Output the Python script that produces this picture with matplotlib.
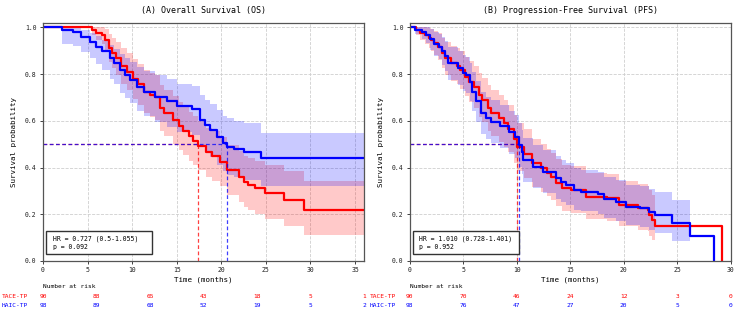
import matplotlib
matplotlib.use('Agg')
import matplotlib.pyplot as plt
import numpy as np
from matplotlib.transforms import blended_transform_factory
from matplotlib.patches import Rectangle

plt.rcParams['font.family'] = ['DejaVu Sans Mono']

# ---------------- Data ----------------
groups = ["TACE-TP", "HAIC-TP"]
colors = ["#ff0000", "#0000ff"]

# (A) Overall survival
os_tace_t = [0, 5.5, 6.0, 6.6, 7.0, 7.4, 7.7, 8.2, 8.8, 9.4, 10.1, 10.7, 11.3, 12.0, 12.6, 13.1,
             13.6, 14.6, 15.2, 15.7, 16.4, 16.8, 17.35, 18.3, 19.0, 19.9, 20.6, 22.0, 22.5, 23.0,
             23.8, 24.9, 27.0, 29.3, 36.0]
os_tace_s = [1.0, 0.989, 0.978, 0.967, 0.944, 0.911, 0.889, 0.867, 0.833, 0.811, 0.778, 0.756, 0.725,
             0.711, 0.700, 0.656, 0.633, 0.603, 0.578, 0.556, 0.533, 0.515, 0.493, 0.465, 0.448, 0.425,
             0.389, 0.360, 0.339, 0.325, 0.311, 0.290, 0.261, 0.218, 0.218]
os_tace_lo = [1.0, 0.967, 0.948, 0.930, 0.897, 0.853, 0.824, 0.797, 0.756, 0.730, 0.692, 0.667, 0.632,
              0.617, 0.605, 0.557, 0.533, 0.501, 0.475, 0.452, 0.429, 0.410, 0.388, 0.360, 0.343, 0.319,
              0.283, 0.254, 0.232, 0.217, 0.202, 0.180, 0.150, 0.111, 0.111]
os_tace_hi = [1.0, 1.0, 1.0, 1.0, 0.991, 0.970, 0.954, 0.937, 0.910, 0.892, 0.864, 0.845, 0.818,
              0.805, 0.795, 0.755, 0.734, 0.706, 0.682, 0.661, 0.638, 0.621, 0.598, 0.571, 0.555, 0.532,
              0.497, 0.470, 0.451, 0.440, 0.428, 0.410, 0.384, 0.344, 0.344]

os_haic_t = [0, 2.1, 3.4, 4.3, 5.3, 6.0, 6.6, 7.5, 8.0, 8.6, 9.2, 9.8, 10.5, 11.3, 12.6, 13.9, 15.0,
             16.7, 17.6, 18.2, 18.7, 19.5, 20.2, 20.6, 21.4, 22.5, 24.4, 36.0]
os_haic_s = [1.0, 0.990, 0.980, 0.959, 0.939, 0.918, 0.898, 0.867, 0.847, 0.816, 0.796, 0.775, 0.745,
             0.724, 0.704, 0.683, 0.662, 0.652, 0.605, 0.583, 0.560, 0.530, 0.504, 0.490, 0.480, 0.468,
             0.440, 0.440]
os_haic_lo = [1.0, 0.930, 0.921, 0.895, 0.868, 0.842, 0.817, 0.780, 0.757, 0.721, 0.698, 0.675, 0.642,
              0.619, 0.597, 0.575, 0.552, 0.541, 0.490, 0.467, 0.443, 0.411, 0.384, 0.369, 0.358, 0.346,
              0.321, 0.321]
os_haic_hi = [1.0, 1.0, 0.998, 0.987, 0.975, 0.961, 0.946, 0.924, 0.909, 0.886, 0.870, 0.853, 0.829,
              0.812, 0.795, 0.777, 0.759, 0.750, 0.710, 0.691, 0.671, 0.645, 0.622, 0.610, 0.601, 0.591,
              0.548, 0.548]

# (B) Progression-free survival
pfs_tace_t = [0, 0.6, 1.0, 1.4, 1.8, 2.0, 2.3, 2.6, 3.0, 3.3, 3.9, 4.4, 4.7, 5.2, 5.5, 6.0, 6.5, 6.8,
              7.3, 7.6, 8.3, 8.8, 9.2, 9.7, 10.0, 10.7, 11.4, 12.3, 12.8, 13.2, 13.7, 14.2, 15.1, 16.5,
              18.4, 19.6, 21.3, 22.3, 22.4, 22.6, 22.9, 29.2]
pfs_tace_s = [1.0, 0.989, 0.978, 0.967, 0.956, 0.944, 0.933, 0.917, 0.889, 0.867, 0.846, 0.833, 0.817,
              0.789, 0.767, 0.744, 0.711, 0.689, 0.656, 0.633, 0.611, 0.589, 0.567, 0.522, 0.489, 0.460,
              0.418, 0.396, 0.378, 0.360, 0.333, 0.311, 0.304, 0.275, 0.268, 0.240, 0.225, 0.218, 0.197,
              0.175, 0.150, 0.0]
pfs_tace_lo = [1.0, 0.967, 0.948, 0.930, 0.913, 0.897, 0.881, 0.860, 0.824, 0.797, 0.771, 0.756, 0.737,
               0.705, 0.680, 0.654, 0.618, 0.594, 0.558, 0.534, 0.511, 0.488, 0.465, 0.420, 0.386, 0.357,
               0.316, 0.294, 0.277, 0.260, 0.235, 0.214, 0.207, 0.180, 0.173, 0.148, 0.134, 0.127, 0.108,
               0.089, 0.061, np.nan]
pfs_tace_hi = [1.0, 1.0, 1.0, 1.0, 0.999, 0.991, 0.985, 0.974, 0.954, 0.937, 0.921, 0.910, 0.897,
               0.873, 0.854, 0.834, 0.804, 0.784, 0.754, 0.732, 0.711, 0.690, 0.669, 0.625, 0.592, 0.563,
               0.521, 0.499, 0.481, 0.462, 0.435, 0.413, 0.406, 0.378, 0.371, 0.343, 0.328, 0.322, 0.302,
               0.282, 0.268, np.nan]

pfs_haic_t = [0, 0.5, 1.1, 1.5, 1.9, 2.3, 2.7, 3.0, 3.3, 3.6, 4.5, 5.0, 5.3, 5.6, 5.8, 6.2, 6.7, 7.1,
              7.6, 8.4, 9.3, 9.8, 10.25, 10.5, 10.6, 11.5, 12.5, 13.7, 14.1, 14.6, 15.4, 16.0, 17.6,
              18.2, 19.3, 20.2, 21.5, 22.4, 22.9, 24.5, 26.2, 28.4]
pfs_haic_s = [1.0, 0.990, 0.980, 0.969, 0.949, 0.929, 0.918, 0.898, 0.878, 0.847, 0.827, 0.806, 0.796,
              0.765, 0.724, 0.684, 0.633, 0.612, 0.597, 0.577, 0.551, 0.532, 0.496, 0.465, 0.432, 0.404,
              0.382, 0.354, 0.340, 0.325, 0.304, 0.297, 0.286, 0.264, 0.254, 0.232, 0.225, 0.211, 0.197,
              0.161, 0.107, 0.0]
pfs_haic_lo = [1.0, 0.970, 0.951, 0.933, 0.904, 0.877, 0.863, 0.838, 0.813, 0.776, 0.753, 0.729, 0.718,
               0.684, 0.640, 0.597, 0.543, 0.521, 0.506, 0.485, 0.459, 0.439, 0.403, 0.372, 0.340, 0.313,
               0.292, 0.266, 0.253, 0.239, 0.220, 0.213, 0.203, 0.183, 0.173, 0.153, 0.147, 0.133, 0.120,
               0.085, 0.034, np.nan]
pfs_haic_hi = [1.0, 1.0, 1.0, 1.0, 0.994, 0.981, 0.973, 0.958, 0.943, 0.918, 0.901, 0.883, 0.874,
               0.846, 0.808, 0.771, 0.723, 0.703, 0.688, 0.669, 0.644, 0.625, 0.590, 0.559, 0.526, 0.498,
               0.476, 0.448, 0.434, 0.419, 0.398, 0.391, 0.380, 0.358, 0.348, 0.327, 0.320, 0.307, 0.294,
               0.262, 0.240, np.nan]

os_medians = [17.36, 20.6]
pfs_medians = [10.0, 10.25]

os_risk_times = [0, 6, 12, 18, 24, 30, 36]
os_risk_tace = [90, 88, 65, 43, 18, 5, 1]
os_risk_haic = [98, 89, 68, 52, 19, 5, 2]
pfs_risk_times = [0, 5, 10, 15, 20, 25, 30]
pfs_risk_tace = [90, 70, 46, 24, 12, 3, 0]
pfs_risk_haic = [98, 76, 47, 27, 20, 5, 0]

os_title = "(A) Overall Survival (OS)"
pfs_title = "(B) Progression-Free Survival (PFS)"
os_stats = ["HR = 0.727 (0.5-1.055)", "p = 0.092"]
pfs_stats = ["HR = 1.010 (0.728-1.401)", "p = 0.952"]

# ---------------- Plot ----------------
fig = plt.figure(figsize=(7.36, 3.11), dpi=100)
axA = fig.add_axes([0.0584, 0.1608, 0.4361, 0.7662])
axB = fig.add_axes([0.5567, 0.1608, 0.4361, 0.7662])


def draw_panel(ax, curves, medians, xmax, xticks, title, stats,
               risk_times, risk_rows, label_x):
    for (t, s, lo, hi), c in zip(curves, colors):
        ax.fill_between(t, lo, hi, step='post', color=c, alpha=0.21, lw=0)
    for (t, s, lo, hi), c in zip(curves, colors):
        ax.step(t, s, where='post', color=c, lw=1.6)
    # median lines
    for m, c in zip(medians, colors):
        ax.plot([0, m], [0.5, 0.5], color=c, lw=0.9, ls=(0, (3, 2)), alpha=0.75)
        ax.plot([m, m], [0, 0.5], color=c, lw=0.9, ls=(0, (3, 2)), alpha=0.75)
    ax.set_xlim(0, xmax)
    ax.set_ylim(0, 1.02)
    ax.set_xticks(xticks)
    ax.set_yticks([0, 0.2, 0.4, 0.6, 0.8, 1.0])
    ax.set_yticklabels(["0.0", "0.2", "0.4", "0.6", "0.8", "1.0"])
    ax.grid(True, color='#cfcfcf', ls='--', lw=0.6)
    ax.set_axisbelow(True)
    ax.tick_params(labelsize=4.7, length=2.5, width=0.6, pad=2, colors='#222222')
    for sp in ax.spines.values():
        sp.set_color('#555555')
        sp.set_linewidth(0.9)
    ax.set_title(title, fontsize=6.0, pad=7)
    ax.set_xlabel("Time (months)", fontsize=5.4, labelpad=2)
    ax.set_ylabel("Survival probability", fontsize=5.4, labelpad=6)
    # statistics box
    ax.add_patch(Rectangle((0.009, 0.028), 0.33, 0.099, transform=ax.transAxes,
                           fc='white', ec='#333333', lw=1.0, zorder=5))
    ax.text(0.03, 0.095, stats[0], transform=ax.transAxes, fontsize=4.7,
            va='center', ha='left', zorder=6)
    ax.text(0.03, 0.057, stats[1], transform=ax.transAxes, fontsize=4.7,
            va='center', ha='left', zorder=6)
    # risk table
    tr = blended_transform_factory(ax.transData, ax.transAxes)
    ax.text(0, -0.109, "Number at risk", transform=tr, fontsize=4.5,
            ha='left', va='center', clip_on=False)
    ys = [-0.147, -0.185]
    ftr = blended_transform_factory(fig.transFigure, ax.transAxes)
    for row, c, y, g in zip(risk_rows, colors, ys, groups):
        fig.text(label_x, y, g, fontsize=4.5, color=c, ha='left', va='center',
                 transform=ftr)
        for tt, n in zip(risk_times, row):
            ax.text(tt, y, str(n), transform=tr, fontsize=4.5, color=c,
                    ha='center', va='center', clip_on=False)


draw_panel(axA,
           [(os_tace_t, os_tace_s, os_tace_lo, os_tace_hi),
            (os_haic_t, os_haic_s, os_haic_lo, os_haic_hi)],
           os_medians, 36, [0, 5, 10, 15, 20, 25, 30, 35], os_title, os_stats,
           os_risk_times, [os_risk_tace, os_risk_haic], 2 / 736)
draw_panel(axB,
           [(pfs_tace_t, pfs_tace_s, pfs_tace_lo, pfs_tace_hi),
            (pfs_haic_t, pfs_haic_s, pfs_haic_lo, pfs_haic_hi)],
           pfs_medians, 30, [0, 5, 10, 15, 20, 25, 30], pfs_title, pfs_stats,
           pfs_risk_times, [pfs_risk_tace, pfs_risk_haic], 370 / 736)

fig.savefig("out.png", dpi=100)
